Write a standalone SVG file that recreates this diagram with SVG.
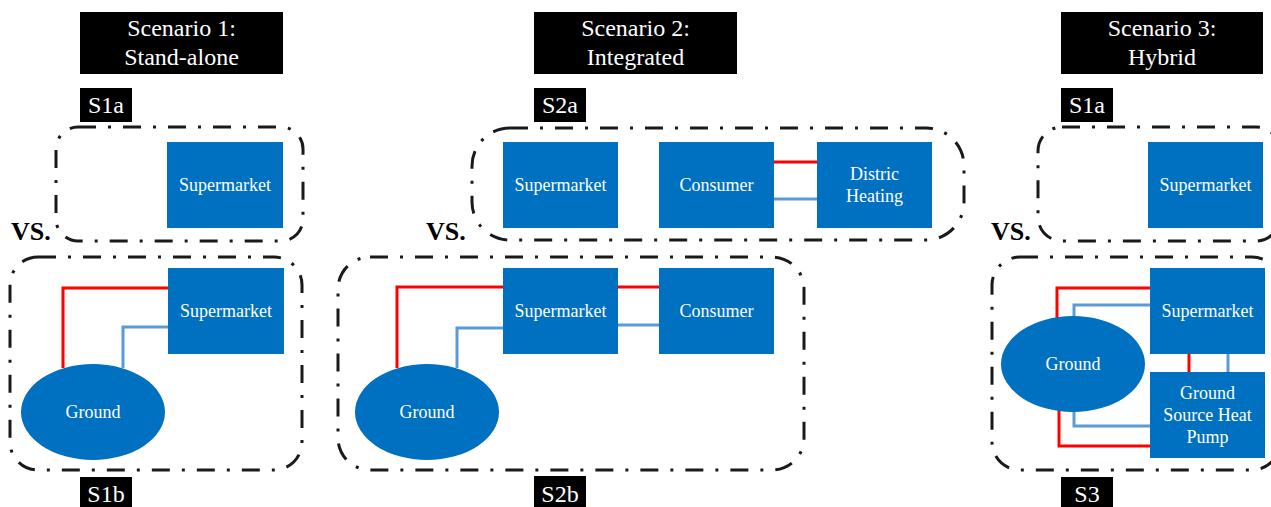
<svg xmlns="http://www.w3.org/2000/svg" width="1271" height="507" viewBox="0 0 1271 507">
<style>
text{font-family:"Liberation Serif","Times New Roman",serif;}
.hdr{fill:#000;}
.ht{fill:#fff;font-size:24px;text-anchor:middle;}
.grp{fill:none;stroke:#1a1a1a;stroke-width:3;stroke-dasharray:18 12 3 12;}
.node{fill:#0070C0;}
.nt{fill:#fff;font-size:18px;text-anchor:middle;}
.vs{fill:#000;font-size:26px;font-weight:bold;}
.red{fill:none;stroke:#FF0000;stroke-width:3;}
.blue{fill:none;stroke:#5B9BD5;stroke-width:3;}
</style>
<rect width="1271" height="507" fill="#fff"/>

<g id="headers">
<rect class="hdr" x="80" y="12" width="203" height="62"/>
<text class="ht" x="181.5" y="36">Scenario 1:</text>
<text class="ht" x="181.5" y="65">Stand-alone</text>
<rect class="hdr" x="534" y="12" width="203" height="62"/>
<text class="ht" x="635.5" y="36">Scenario 2:</text>
<text class="ht" x="635.5" y="65">Integrated</text>
<rect class="hdr" x="1061" y="12" width="202" height="62"/>
<text class="ht" x="1162" y="36">Scenario 3:</text>
<text class="ht" x="1162" y="65">Hybrid</text>
</g>

<g id="labels">
<rect class="hdr" x="80" y="88" width="52" height="34"/>
<text class="ht" x="106" y="113">S1a</text>
<rect class="hdr" x="534" y="88" width="52" height="34"/>
<text class="ht" x="560" y="113">S2a</text>
<rect class="hdr" x="1061" y="88" width="52" height="34"/>
<text class="ht" x="1087" y="113">S1a</text>
<rect class="hdr" x="80" y="477" width="52" height="35"/>
<text class="ht" x="106" y="502">S1b</text>
<rect class="hdr" x="534" y="476" width="52" height="36"/>
<text class="ht" x="560" y="502">S2b</text>
<rect class="hdr" x="1061" y="477" width="52" height="35"/>
<text class="ht" x="1087" y="502">S3</text>
<text class="vs" x="11" y="240">VS.</text>
<text class="vs" x="426" y="240">VS.</text>
<text class="vs" x="991" y="240">VS.</text>
</g>

<g id="groups">
<rect class="grp" x="56" y="127" width="247" height="114" rx="22"/>
<rect class="grp" x="10" y="257" width="292" height="213" rx="28"/>
<rect class="grp" x="472" y="128" width="492" height="112" rx="38"/>
<rect class="grp" x="338" y="257" width="466" height="213" rx="32"/>
<rect class="grp" x="1038" y="127" width="242" height="114" rx="24"/>
<rect class="grp" x="992" y="257" width="288" height="213" rx="28"/>
</g>

<g id="connectors">
<path class="red" d="M63,368 V288 H168"/>
<path class="blue" d="M123,368 V327 H168"/>
<path class="red" d="M397,368 V287 H503"/>
<path class="blue" d="M457,368 V328 H503"/>
<path class="red" d="M618,287 H659"/>
<path class="blue" d="M618,325 H659"/>
<path class="red" d="M774,162 H817"/>
<path class="blue" d="M774,199 H817"/>
<path class="red" d="M1057,318 V288 H1150"/>
<path class="blue" d="M1074,317 V305 H1150"/>
<path class="red" d="M1189,354 V372"/>
<path class="blue" d="M1228,354 V372"/>
<path class="blue" d="M1074,411 V426 H1150"/>
<path class="red" d="M1059,410 V446 H1150"/>
</g>

<g id="s1a-supermarket">
<rect class="node" x="167" y="142" width="116" height="86"/>
<text class="nt" x="225" y="191">Supermarket</text>
</g>
<g id="s1b-supermarket">
<rect class="node" x="168" y="268" width="116" height="86"/>
<text class="nt" x="226" y="317">Supermarket</text>
</g>
<g id="s1b-ground">
<ellipse class="node" cx="93" cy="412" rx="72" ry="48"/>
<text class="nt" x="93" y="418">Ground</text>
</g>

<g id="s2a-supermarket">
<rect class="node" x="503" y="142" width="115" height="86"/>
<text class="nt" x="560.5" y="191">Supermarket</text>
</g>
<g id="s2a-consumer">
<rect class="node" x="659" y="142" width="115" height="86"/>
<text class="nt" x="716.5" y="191">Consumer</text>
</g>
<g id="s2a-district">
<rect class="node" x="817" y="142" width="115" height="86"/>
<text class="nt" x="874.5" y="180">Distric</text>
<text class="nt" x="874.5" y="202">Heating</text>
</g>
<g id="s2b-supermarket">
<rect class="node" x="503" y="268" width="115" height="86"/>
<text class="nt" x="560.5" y="317">Supermarket</text>
</g>
<g id="s2b-consumer">
<rect class="node" x="659" y="268" width="115" height="86"/>
<text class="nt" x="716.5" y="317">Consumer</text>
</g>
<g id="s2b-ground">
<ellipse class="node" cx="427" cy="412" rx="72" ry="48"/>
<text class="nt" x="427" y="418">Ground</text>
</g>

<g id="s3a-supermarket">
<rect class="node" x="1148" y="142" width="115" height="86"/>
<text class="nt" x="1205.5" y="191">Supermarket</text>
</g>
<g id="s3-supermarket">
<rect class="node" x="1150" y="268" width="115" height="86"/>
<text class="nt" x="1207.5" y="317">Supermarket</text>
</g>
<g id="s3-gshp">
<rect class="node" x="1150" y="372" width="115" height="86"/>
<text class="nt" x="1207.5" y="399">Ground</text>
<text class="nt" x="1207.5" y="421">Source Heat</text>
<text class="nt" x="1207.5" y="443">Pump</text>
</g>
<g id="s3-ground">
<ellipse class="node" cx="1073" cy="364" rx="72" ry="48"/>
<text class="nt" x="1073" y="370">Ground</text>
</g>
</svg>
